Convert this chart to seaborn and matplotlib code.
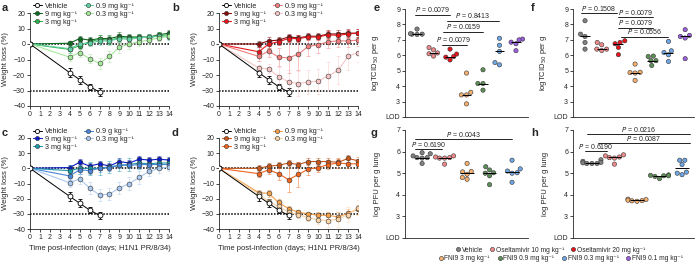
import numpy as np
import pandas as pd
import matplotlib
matplotlib.use('Agg')
import matplotlib.pyplot as plt
from matplotlib.lines import Line2D
import seaborn as sns

KG = 'kg\u207b\u00b9'

# ---------------- data: weight loss (a-d) ----------------
days = [0, 4, 5, 6, 7, 8, 9, 10, 11, 12, 13, 14]
vehicle_days = [0, 4, 5, 6, 7]
vehicle_mean = [0, -18.5, -23, -27.5, -31]
vehicle_err = [0, 3, 2.5, 2, 2.5]

dose_labels = ['9 mg ' + KG, '3 mg ' + KG, '0.9 mg ' + KG, '0.3 mg ' + KG]

a_mean = {'9': [0, 0.5, 3.5, 2.5, 3.5, 3.5, 5, 4.5, 4.5, 4.5, 6, 7],
          '3': [0, -3.5, -1, 1.5, 3, 2.5, 4, 4, 4.5, 4, 5.5, 6],
          '0.9': [0, -3, 0, 0.5, 2, 2, 3.5, 3, 4, 4.5, 5, 4.5],
          '0.3': [0, -8.5, -5.5, -9.5, -12.5, -8, -2, 0, 1.5, 2.5, 4, 5]}
a_err = {'9': [0, 1.5, 1.5, 2, 2, 2, 2.5, 2, 2, 2, 2, 2],
         '3': [0, 2, 2, 2, 2.5, 2.5, 2.5, 2, 2, 2, 2, 2],
         '0.9': [0, 2.5, 2, 2, 2.5, 2.5, 2.5, 2.5, 2, 2, 2, 2],
         '0.3': [0, 2.5, 3, 3, 3.5, 3.5, 3.5, 3, 2.5, 2.5, 2, 2]}

b_mean = {'9': [0, 0, 2, 2.5, 4.5, 4, 5, 5, 6.5, 6.5, 7, 7],
          '3': [0, -5, 0, 1.5, 3.5, 3.5, 4.5, 4.5, 6, 5.5, 6.5, 7],
          '0.9': [0, -8, -4.5, -8.5, -9, -6.5, -1.5, -0.5, 1.5, 2, 2, 2.5],
          '0.3': [0, -15.5, -16, -21, -24.5, -25.5, -24.5, -24, -20.5, -17, -8, -5.5]}
b_err = {'9': [0, 2, 2.5, 2, 2, 2, 2, 2, 2.5, 2.5, 2.5, 2.5],
         '3': [0, 3, 2.5, 2, 2, 2, 2, 2, 2.5, 2.5, 2.5, 2.5],
         '0.9': [0, 3, 4, 6, 10, 10, 6, 5, 4, 4, 4, 4],
         '0.3': [0, 2, 3, 6, 8, 8, 8, 8, 9, 9, 9, 6]}

c_mean = {'9': [0, 0.5, 4, 1.5, 3, 1.5, 4.5, 3.5, 6, 5.5, 6, 5.5],
          '3': [0, -1.5, 0, 0, 0, 1, 2, 2.5, 3.5, 3, 3.5, 3.5],
          '0.9': [0, -5, -1, -1.5, 0, 0.5, 2, 2, 2.5, 2.5, 2.5, 2.5],
          '0.3': [0, -9.5, -7, -13, -17.5, -17, -13, -10, -6, -2, 0, 1]}
c_err = {'9': [0, 2, 2, 2, 2, 2, 2, 2, 2, 2, 2, 2],
         '3': [0, 4, 4, 4.5, 4.5, 4, 4, 4, 4, 4, 4, 4],
         '0.9': [0, 2.5, 2.5, 2.5, 2.5, 2.5, 2, 2, 2, 2, 2, 2],
         '0.3': [0, 2.5, 3, 4, 4, 4, 4, 4, 4, 3, 3, 2.5]}

d_mean = {'9': [0, 0, 1.5, 2, 3.5, 2.5, 4.5, 4.5, 4.5, 4, 6.5, 5],
          '3': [0, -3.5, -1, -3.5, -7.5, -4, -0.5, 0.5, 2.5, 3.5, 3, 3],
          '0.9': [0, -16, -16.5, -22.5, -26.5, -29, -30, -31, -31, -32, -29.5, -27],
          '0.3': [0, -17, -22, -25, -29, -30.5, -32.5, -34, -34.5, -33.5, -30.5, -26]}
d_err = {'9': [0, 2, 2, 2, 2, 2, 2, 2, 2, 2, 2, 2.5],
         '3': [0, 2.5, 3, 4, 8, 8, 4, 3, 3, 3, 3, 3],
         '0.9': [0, 1.5, 2.5, 2, 1.5, 1.5, 1.5, 2, 2.5, 3, 3, 3],
         '0.3': [0, 1.5, 2, 2, 2, 2, 2.5, 3, 4, 5, 5, 5]}

# ---------------- data: viral titres (e-h) ----------------
groups7 = ['Vehicle', 'Oseltamivir 10 mg ' + KG, 'Oseltamivir 20 mg ' + KG,
           'FNI9 3 mg ' + KG, 'FNI9 0.9 mg ' + KG, 'FNI9 0.3 mg ' + KG, 'FNI9 0.1 mg ' + KG]
groups5 = [groups7[0], groups7[1], groups7[3], groups7[4], groups7[5]]
group_colors = ['#808080', '#f08a8a', '#e8141c', '#f5b06e', '#5e8f58', '#6ea6e6', '#9b5fe0']

e_vals = [[7.7, 7.37, 7.37, 7.4, 7.35],
          [6.5, 6.35, 6.15, 5.95, 6.1],
          [6.4, 6.08, 5.92, 5.88, 5.7],
          [4.85, 3.6, 3.43, 3.43, 2.85],
          [5.06, 4.17, 4.17, 3.74],
          [7.1, 6.65, 6.25, 5.38, 5.53],
          [7.05, 7.0, 6.85, 6.75, 6.3]]
f_vals = [[8.24, 7.22, 7.37, 6.83, 6.4],
          [6.83, 6.68, 6.4, 6.31, 6.4],
          [6.83, 6.94, 6.75, 6.51, 6.04],
          [5.43, 4.9, 4.88, 4.85, 4.37],
          [5.92, 5.95, 5.65, 5.65, 5.34],
          [6.9, 6.18, 6.29, 6.03, 5.6],
          [7.66, 7.29, 7.12, 7.22, 5.78]]
g_vals = [[5.95, 5.9, 5.8, 5.72, 5.72, 5.7, 5.45],
          [5.8, 5.75, 5.72, 5.7, 5.7, 5.42],
          [5.45, 5.08, 5.06, 4.95, 4.8, 4.72],
          [5.3, 5.15, 5.02, 5.0, 4.88, 4.47],
          [5.6, 5.2, 5.1, 5.02, 5.0, 4.58]]
h_vals = [[5.62, 5.55, 5.5, 5.48, 5.45, 5.45, 5.45],
          [5.85, 5.8, 5.75, 5.72, 5.7, 5.42],
          [3.8, 3.78, 3.75, 3.73, 3.72, 3.7],
          [4.92, 4.9, 4.88, 4.88, 4.85, 4.75],
          [5.6, 5.6, 5.4, 5.05, 5.0, 4.93]]

# P-value brackets: (x1, x2, y, text)
e_p = [(-0.12, 2.0, 8.63, '0.0079'), (1.8, 5.0, 8.24, '0.8413'),
       (1.6, 4.0, 7.53, '0.0159'), (1.5, 3.0, 6.68, '0.0079')]
f_p = [(-0.25, 1.9, 8.74, '0.1508'), (2.0, 4.1, 8.45, '0.0079'),
       (2.0, 4.1, 7.8, '0.0079'), (2.15, 5.0, 7.2, '0.0556')]
g_p = [(-0.3, 4.0, 6.58, '0.0043'), (-0.3, 0.9, 6.12, '0.6190')]
h_p = [(-0.2, 4.35, 6.81, '0.0216'), (0.27, 4.35, 6.4, '0.0087'), (-0.3, 0.67, 6.03, '0.6190')]

# ---------------- style ----------------
sns.set_style('ticks')
plt.rcParams['font.family'] = ['Liberation Sans', 'DejaVu Sans']
plt.rcParams['font.size'] = 5
plt.rcParams['axes.linewidth'] = 0.6
plt.rcParams['xtick.major.width'] = 0.6
plt.rcParams['ytick.major.width'] = 0.6
plt.rcParams['xtick.major.size'] = 2
plt.rcParams['ytick.major.size'] = 2
plt.rcParams['xtick.major.pad'] = 1.5
plt.rcParams['ytick.major.pad'] = 1.5
plt.rcParams['xtick.labelsize'] = 5
plt.rcParams['ytick.labelsize'] = 5

W, H = 697, 264
fig = plt.figure(figsize=(W / 100, H / 100), dpi=100)


def px_axes(l, t, r, b):
    return fig.add_axes([l / W, 1 - b / H, (r - l) / W, (b - t) / H])


def weight_panel(ax, means, errs, colors, labels, xlabel=False):
    handles = []
    ax.errorbar(vehicle_days, vehicle_mean, yerr=vehicle_err, fmt='none', ecolor='k',
                elinewidth=0.6, capsize=1.2, capthick=0.6, zorder=2)
    sns.lineplot(x=vehicle_days, y=vehicle_mean, color='k', lw=0.7, marker='o', markersize=3.5,
                 markerfacecolor='white', markeredgecolor='k', markeredgewidth=0.6, ax=ax, zorder=4)
    handles.append(Line2D([], [], color='k', lw=0.7, marker='o', markersize=3,
                          markerfacecolor='white', markeredgecolor='k', markeredgewidth=0.6))
    for key in ['9', '3', '0.9', '0.3']:
        c = colors[key]
        ax.errorbar(days, means[key], yerr=errs[key], fmt='none', ecolor=c, alpha=0.55,
                    elinewidth=0.6, capsize=1.2, capthick=0.6, zorder=2)
        sns.lineplot(x=days, y=means[key], color=c, lw=0.8, marker='o', markersize=3.5,
                     markeredgecolor='#333333', markeredgewidth=0.4, ax=ax, zorder=3)
        handles.append(Line2D([], [], color=c, lw=0.8, marker='o', markersize=3,
                              markeredgecolor='#333333', markeredgewidth=0.4))
    for yy in (0, -30):
        ax.plot([0, 14], [yy, yy], color='k', lw=1.1, ls=(0, (1, 1)), zorder=1)
    ax.set_xlim(0, 14)
    ax.set_ylim(-40, 20)
    ax.set_xticks(range(0, 15))
    ax.set_yticks([-40, -30, -20, -10, 0, 10, 20])
    ax.set_ylabel('Weight loss (%)', fontsize=5.5, labelpad=3)
    if xlabel:
        ax.set_xlabel('Time post-infection (days; H1N1 PR/8/34)', fontsize=5.5, labelpad=3)
    else:
        ax.set_xlabel('')
    ax.spines[['top', 'right']].set_visible(False)
    ax.legend(handles, ['Vehicle'] + labels, ncol=2, loc='upper left',
              bbox_to_anchor=(0.02, 1.11), frameon=False, fontsize=5.2,
              handlelength=1.3, handletextpad=0.4, labelspacing=0.12,
              columnspacing=0.9, borderaxespad=0, borderpad=0)


def titre_panel(ax, vals, names, ylim_top, pvals, xlim, ylabel):
    rows = []
    for nm, vs in zip(names, vals):
        for v in vs:
            rows.append((nm, v))
    df = pd.DataFrame(rows, columns=['group', 'value'])
    pal = {nm: group_colors[groups7.index(nm)] for nm in names}
    sns.swarmplot(data=df, x='group', y='value', hue='group', order=names, palette=pal,
                  size=3.1, edgecolor='#333333', linewidth=0.4, legend=False, ax=ax, zorder=3)
    for i, vs in enumerate(vals):
        ax.hlines(np.median(vs), i - 0.3, i + 0.3, color='k', lw=0.7, zorder=4)
    for x1, x2, y, txt in pvals:
        ax.plot([x1, x2], [y, y], color='k', lw=0.6, clip_on=False)
        ax.text((x1 + x2) / 2, y + 0.02, '$P$ = ' + txt, ha='center', va='bottom',
                fontsize=5, clip_on=False)
    ax.set_xlim(*xlim)
    ax.set_ylim(2, ylim_top)
    ticks = list(range(2, ylim_top + 1))
    ax.set_yticks(ticks)
    ax.set_yticklabels(['LOD'] + [str(t) for t in ticks[1:]])
    ax.set_xticks([])
    ax.set_xlabel('')
    ax.set_ylabel(ylabel, fontsize=5.5, labelpad=3)
    ax.spines[['top', 'right']].set_visible(False)


ax_a = px_axes(30, 13, 169, 106)
ax_b = px_axes(219, 13, 358, 106)
ax_c = px_axes(30, 138, 169, 229)
ax_d = px_axes(219, 138, 358, 229)

weight_panel(ax_a, a_mean, a_err, {'9': '#0b6b1e', '3': '#2db34a', '0.9': '#5fd0a0', '0.3': '#a6e89a'},
             dose_labels)
weight_panel(ax_b, b_mean, b_err, {'9': '#8b0a0a', '3': '#e8161b', '0.9': '#f28080', '0.3': '#f7c6c6'},
             dose_labels)
weight_panel(ax_c, c_mean, c_err, {'9': '#0a1ccc', '3': '#1b9aa8', '0.9': '#4a86d8', '0.3': '#a9c8ef'},
             ['9 mg ' + KG, '3 mg ' + KG, '0.9 g ' + KG, '0.3 mg ' + KG], xlabel=True)
weight_panel(ax_d, d_mean, d_err, {'9': '#c8561a', '3': '#f0641e', '0.9': '#f5a04a', '0.3': '#f9d2a6'},
             dose_labels, xlabel=True)

ax_e = px_axes(405, 9, 528, 117)
ax_f = px_axes(573, 9, 694, 117)
ax_g = px_axes(405, 130, 528, 238)
ax_h = px_axes(573, 130, 694, 238)

titre_panel(ax_e, e_vals, groups7, 9, e_p, (-0.73, 6.73), 'logTCID$_{50}$ per g')
titre_panel(ax_f, f_vals, groups7, 9, f_p, (-0.72, 6.53), 'logTCID$_{50}$ per g')
titre_panel(ax_g, g_vals, groups5, 7, g_p, (-0.76, 4.71), 'log PFU per g lung')
titre_panel(ax_h, h_vals, groups5, 7, h_p, (-0.84, 4.53), 'log PFU per g lung')

# panel letters
for lab, (x, y) in zip('abcdefgh', [(2, 3), (172, 3), (2, 128), (172, 128),
                                    (374, 3), (531, 3), (371, 128), (531, 128)]):
    fig.text(x / W, 1 - y / H, lab, fontsize=8, fontweight='bold', va='top', ha='left')


# bottom legend
def dot(c):
    return Line2D([], [], ls='none', marker='o', markersize=3, markerfacecolor=c,
                  markeredgecolor='#333333', markeredgewidth=0.4)


fig.legend([dot(c) for c in group_colors[:3]], groups7[:3], ncol=3, loc='center',
           bbox_to_anchor=(551 / W, 1 - 250 / H), frameon=False, fontsize=4.8,
           handlelength=0.5, handletextpad=0.3, columnspacing=1.1, borderaxespad=0, borderpad=0)
fig.legend([dot(c) for c in group_colors[3:]], groups7[3:], ncol=4, loc='center',
           bbox_to_anchor=(561 / W, 1 - 259 / H), frameon=False, fontsize=4.8,
           handlelength=0.5, handletextpad=0.3, columnspacing=1.2, borderaxespad=0, borderpad=0)

fig.savefig('out.png', dpi=100)
